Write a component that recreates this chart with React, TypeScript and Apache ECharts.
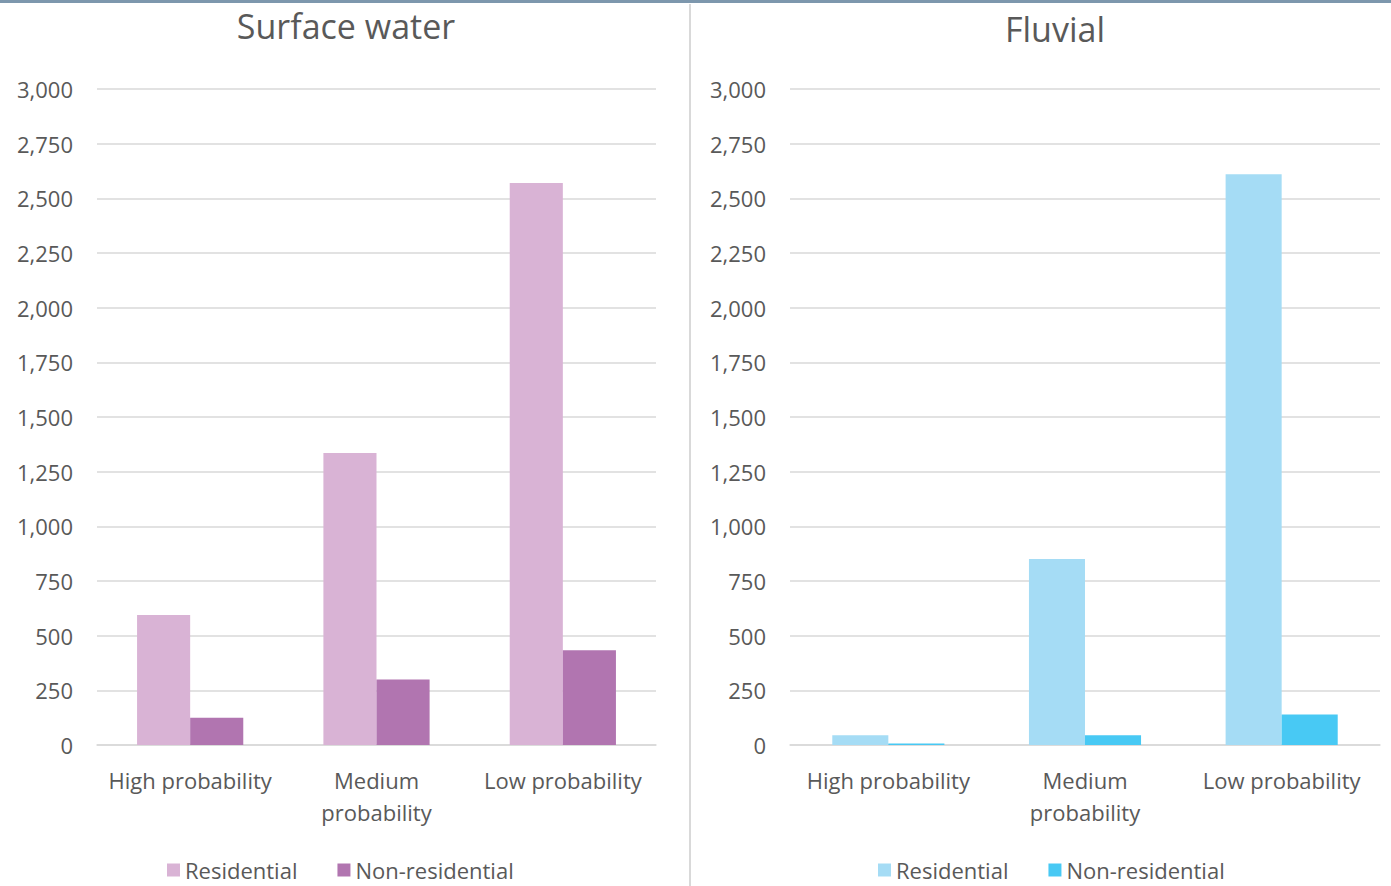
import React, { useEffect, useRef } from "react";
import * as echarts from "echarts";

const categories = ["High probability", "Medium\nprobability", "Low probability"];
const seriesNames = ["Residential", "Non-residential"];
const surfaceResidential = [595, 1335, 2570];
const surfaceNonResidential = [125, 300, 433];
const fluvialResidential = [45, 851, 2610];
const fluvialNonResidential = [7, 45, 139];
const titles = ["Surface water", "Fluvial"];

const FONT = "'Open Sans', 'Noto Sans', sans-serif";
const TXT = "#595959";
const GRID = "#d9d9d9";
const surfaceColors = ["#d9b3d5", "#b175b0"];
const fluvialColors = ["#a5dcf5", "#48c9f4"];

export default function App() {
  const ref = useRef<HTMLDivElement>(null);
  useEffect(() => {
    if (!ref.current) return;
    const chart = echarts.init(ref.current, undefined, { renderer: "svg" });
    const grids = [
      { left: 97, top: 89, width: 559, height: 656 },
      { left: 790, top: 89, width: 590, height: 656 },
    ];
    const mkX = (i: number) => ({
      type: "category",
      gridIndex: i,
      data: categories,
      axisTick: { show: false },
      axisLine: { show: true, lineStyle: { color: GRID, width: 1.5 } },
      axisLabel: {
        color: TXT,
        fontFamily: FONT,
        fontSize: 22,
        lineHeight: 32,
        margin: 19,
        interval: 0,
      },
    });
    const mkY = (i: number) => ({
      type: "value",
      gridIndex: i,
      min: 0,
      max: 3000,
      interval: 250,
      axisLine: { show: false },
      axisTick: { show: false },
      splitLine: { lineStyle: { color: GRID, width: 1.5 } },
      axisLabel: {
        color: TXT,
        fontFamily: FONT,
        fontSize: 22,
        margin: 24,
        formatter: (v: number) => v.toLocaleString("en-US"),
      },
    });
    const mkBar = (name: string, data: number[], color: string, i: number) => ({
      type: "bar",
      name,
      data,
      xAxisIndex: i,
      yAxisIndex: i,
      barGap: "0%",
      barCategoryGap: "43%",
      itemStyle: { color },
    });
    const legendText = { color: TXT, fontFamily: FONT, fontSize: 22, lineHeight: 24 };
    chart.setOption({
      animation: false,
      backgroundColor: "#ffffff",
      title: [
        {
          text: titles[0],
          left: 341,
          top: 4,
          textAlign: "center",
          textStyle: { color: TXT, fontFamily: FONT, fontSize: 34, fontWeight: "normal" },
        },
        {
          text: titles[1],
          left: 1050,
          top: 7,
          textAlign: "center",
          textStyle: { color: TXT, fontFamily: FONT, fontSize: 34, fontWeight: "normal" },
        },
      ],
      grid: grids,
      xAxis: [mkX(0), mkX(1)],
      yAxis: [mkY(0), mkY(1)],
      legend: [
        {
          left: 167,
          top: 858,
          padding: 0,
          icon: "rect",
          itemWidth: 13,
          itemHeight: 13,
          itemGap: 40,
          selectedMode: false,
          textStyle: legendText,
          data: seriesNames.map((n, k) => ({ name: n, itemStyle: { color: surfaceColors[k] } })),
        },
        {
          left: 878,
          top: 858,
          padding: 0,
          icon: "rect",
          itemWidth: 13,
          itemHeight: 13,
          itemGap: 40,
          selectedMode: false,
          textStyle: legendText,
          data: seriesNames.map((n, k) => ({ name: n, itemStyle: { color: fluvialColors[k] } })),
        },
      ],
      series: [
        mkBar(seriesNames[0], surfaceResidential, surfaceColors[0], 0),
        mkBar(seriesNames[1], surfaceNonResidential, surfaceColors[1], 0),
        mkBar(seriesNames[0], fluvialResidential, fluvialColors[0], 1),
        mkBar(seriesNames[1], fluvialNonResidential, fluvialColors[1], 1),
      ],
      graphic: [
        {
          type: "rect",
          left: 0,
          top: 0,
          shape: { width: 1391, height: 3 },
          style: { fill: "#7d97ad" },
        },
        {
          type: "line",
          shape: { x1: 690, y1: 4, x2: 690, y2: 886 },
          style: { stroke: "#d9d9d9", lineWidth: 2 },
        },
      ],
    });
    return () => chart.dispose();
  }, []);
  return (
    <div
      ref={ref}
      style={{ position: "fixed", left: 0, top: 0, width: 1391, height: 886 }}
    />
  );
}
